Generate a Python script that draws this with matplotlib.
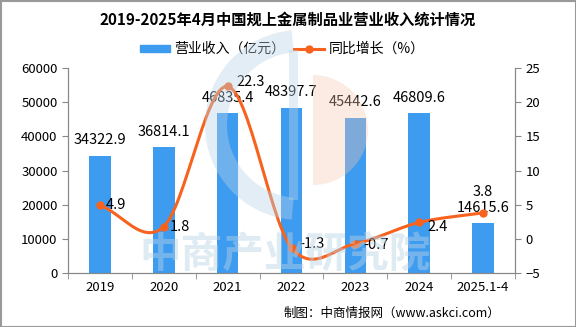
import numpy as np
import matplotlib.pyplot as plt
from matplotlib.patches import Wedge, Rectangle
from matplotlib.lines import Line2D
from matplotlib.patches import Patch

plt.rcParams['font.family'] = ['Noto Sans CJK SC', 'DejaVu Sans']

years = ['2019', '2020', '2021', '2022', '2023', '2024', '2025.1-4']
revenue = [34322.9, 36814.1, 46835.4, 48397.7, 45442.6, 46809.6, 14615.6]
growth = [4.9, 1.8, 22.3, -1.3, -0.7, 2.4, 3.8]

bar_color = '#3d9cf0'
line_color = '#f7631f'


def smooth(xs, ys, n=30):
    # catmull-rom style smoothing, like the excel "smoothed line"
    xs = np.asarray(xs, float)
    ys = np.asarray(ys, float)
    px = np.concatenate([[2 * xs[0] - xs[1]], xs, [2 * xs[-1] - xs[-2]]])
    py = np.concatenate([[2 * ys[0] - ys[1]], ys, [2 * ys[-1] - ys[-2]]])
    ox, oy = [], []
    t = np.linspace(0, 1, n)
    for i in range(1, len(px) - 2):
        for p, out in ((px, ox), (py, oy)):
            p0, p1, p2, p3 = p[i - 1], p[i], p[i + 1], p[i + 2]
            out.extend(0.5 * ((2 * p1) + (-p0 + p2) * t
                              + (2 * p0 - 5 * p1 + 4 * p2 - p3) * t ** 2
                              + (-p0 + 3 * p1 - 3 * p2 + p3) * t ** 3))
    return np.array(ox), np.array(oy)


fig = plt.figure(figsize=(5.76, 3.27), dpi=100)
ax = fig.add_axes([68 / 576, 1 - 273 / 327, (515 - 68) / 576, (273 - 68) / 327])
ax2 = ax.twinx()

x = np.arange(len(years))
ax.bar(x, revenue, width=0.34, color=bar_color, zorder=2)
ax.set_ylim(0, 60000)
ax.set_yticks(range(0, 60001, 10000))
ax.set_xlim(-0.5, len(years) - 0.5)
ax.set_xticks(x)
ax.set_xticklabels(years)
ax.set_xticks(np.arange(-0.5, len(years), 1), minor=True)
ax.tick_params(axis='x', which='major', length=0, pad=6)
ax.tick_params(axis='x', which='minor', length=4, direction='out', color='#888888')
ax.tick_params(axis='y', length=4, color='#888888', direction='out')

sx, sy = smooth(x, growth)
ax2.plot(sx, sy, color=line_color, lw=2.2, zorder=4)
ax2.plot(x, growth, 'o', color=line_color, ms=5, zorder=5)
ax2.set_ylim(-5, 25)
ax2.set_yticks(range(-5, 26, 5))
ax2.tick_params(axis='y', length=4, color='#888888', direction='out')

for a in (ax, ax2):
    a.spines['top'].set_visible(False)
    for s in ('left', 'right', 'bottom'):
        a.spines[s].set_color('#888888')
    a.tick_params(labelsize=9.5)

for xi, v in zip(x, revenue):
    ax.annotate(f'{v:.1f}', (xi, v), xytext=(0, 6), textcoords='offset points',
                ha='center', va='bottom', fontsize=10.5, zorder=6)

offsets = [(4, 0), (4, 0), (6, 3), (6, 3), (6, -1), (6, -3), (0, 10)]
for xi, g, off in zip(x, growth, offsets):
    ha = 'left' if off[0] > 0 else 'center'
    va = 'center' if off[1] < 10 else 'bottom'
    ax2.annotate(f'{g:.1f}', (xi, g), xytext=off, textcoords='offset points',
                 ha=ha, va=va, fontsize=10.5, zorder=6)

# watermark layer
wm = fig.add_axes([0, 0, 1, 1], zorder=10)
wm.set_xlim(0, 576)
wm.set_ylim(327, 0)
wm.axis('off')
wm.add_patch(Wedge((300, 125), 95, 95, 265, width=22, facecolor='#b8d3e6', alpha=0.4, lw=0))
wm.add_patch(Rectangle((289, 50), 9, 150, facecolor='#b8d3e6', alpha=0.4, lw=0))
wm.add_patch(Wedge((313, 130), 55, -90, 90, facecolor='#f6c7b0', alpha=0.35, lw=0))
wm.text(285, 256, '中商产业研究院', fontsize=30, fontweight='bold', color='#b8d3e6',
        alpha=0.45, ha='center', va='center')
wm.add_patch(Rectangle((0.5, 0.5), 575, 326, fill=False, edgecolor='#999999', lw=1.5))

fig.text(0.5, 1 - 20 / 327, '2019-2025年4月中国规上金属制品业营业收入统计情况',
         ha='center', va='center', fontsize=11, fontweight='bold')
handles = [Patch(color=bar_color),
           Line2D([], [], color=line_color, lw=2.2, marker='o', ms=5)]
fig.legend(handles, ['营业收入（亿元）', '同比增长（%）'], loc='center',
           bbox_to_anchor=(0.49, 1 - 49 / 327), ncol=2, frameon=False,
           fontsize=10, handlelength=2.2, handleheight=0.4, columnspacing=0.6,
           handletextpad=0.3)
fig.text(500 / 576, 1 - 313 / 327, '制图：中商情报网（www.askci.com）',
         ha='right', va='center', fontsize=9)

fig.savefig('out.png', dpi=100)
